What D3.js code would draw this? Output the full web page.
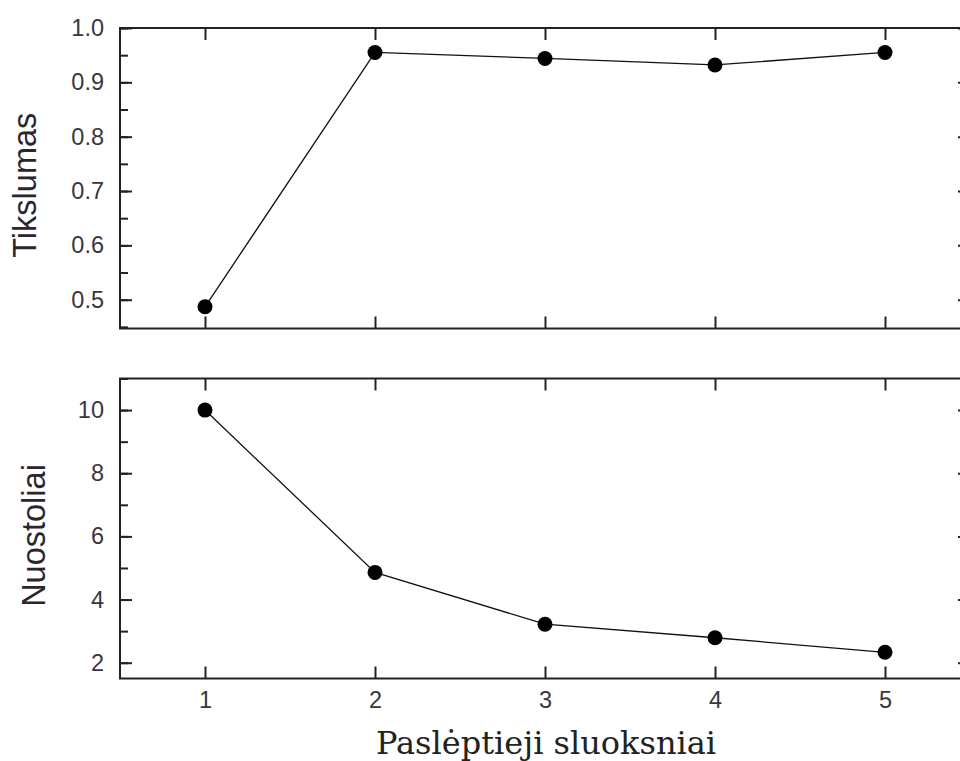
<!DOCTYPE html>
<html>
<head>
<meta charset="utf-8">
<script src="https://cdn.jsdelivr.net/npm/d3@7"></script>
<style>
  html, body { margin: 0; padding: 0; background: #fff; }
  svg { display: block; }
</style>
</head>
<body>
<svg id="chart" width="960" height="761"></svg>
<script>
// Hidden layer count on the shared x axis
const layers = [1, 2, 3, 4, 5];
// Accuracy for each layer count
const accuracy = [0.487, 0.955, 0.944, 0.932, 0.955];
// Loss for each layer count
const loss = [10.0, 4.86, 3.22, 2.79, 2.33];

const xTicks = [1, 2, 3, 4, 5];
const accTicks = [0.5, 0.6, 0.7, 0.8, 0.9, 1.0];
const lossTicks = [2, 4, 6, 8, 10];

const svg = d3.select("#chart");
const frameColor = "#222";
const tickText = "#3a3640";

const x = d3.scaleLinear().domain([0.5, 5.5]).range([120, 970]);

const panels = [
  { values: accuracy, domain: [0.447, 1.0], top: 28, bottom: 328.5,
    ticks: accTicks, minor: d3.range(0.45, 1.0001, 0.05), fmt: d3.format(".1f"),
    title: "Tikslumas", titleX: 27 },
  { values: loss, domain: [1.5, 11], top: 378.5, bottom: 678.5,
    ticks: lossTicks, minor: d3.range(2, 11.0001, 1), fmt: d3.format("d"),
    title: "Nuostoliai", titleX: 36 }
];

panels.forEach((p, i) => {
  const y = d3.scaleLinear().domain(p.domain).range([p.bottom, p.top]);
  const g = svg.append("g");

  // inward-facing ticks on all four sides
  const left = d3.axisLeft(y).tickValues(p.ticks).tickFormat(p.fmt).tickSize(-12).tickPadding(16);
  const leftMinor = d3.axisLeft(y).tickValues(p.minor).tickFormat("").tickSize(-8);
  const right = d3.axisRight(y).tickValues(p.ticks).tickFormat("").tickSize(-12);
  const bottom = d3.axisBottom(x).tickValues(xTicks).tickSize(-12).tickPadding(13)
    .tickFormat(i === 1 ? d3.format("d") : "");
  const top = d3.axisTop(x).tickValues(xTicks).tickFormat("").tickSize(-12);

  const axes = [
    g.append("g").attr("transform", `translate(${x.range()[0]},0)`).call(leftMinor),
    g.append("g").attr("transform", `translate(${x.range()[0]},0)`).call(left),
    g.append("g").attr("transform", `translate(${x.range()[1]},0)`).call(right),
    g.append("g").attr("transform", `translate(0,${p.bottom})`).call(bottom),
    g.append("g").attr("transform", `translate(0,${p.top})`).call(top)
  ];
  axes.forEach(a => {
    a.select(".domain").remove();
    a.selectAll(".tick line").attr("stroke", frameColor).attr("stroke-width", 2);
    a.selectAll(".tick text")
      .attr("fill", tickText)
      .style("font-family", "'Liberation Sans', Arial, sans-serif")
      .style("font-size", "23.5px");
  });

  // frame
  g.append("rect")
    .attr("x", x.range()[0]).attr("y", p.top)
    .attr("width", x.range()[1] - x.range()[0]).attr("height", p.bottom - p.top)
    .attr("fill", "none").attr("stroke", frameColor).attr("stroke-width", 2);

  // series line
  const line = d3.line().x((d, k) => x(layers[k])).y(d => y(d));
  g.append("path")
    .datum(p.values)
    .attr("d", line)
    .attr("fill", "none")
    .attr("stroke", "#111")
    .attr("stroke-width", 1.3);

  // markers
  g.selectAll("circle.pt")
    .data(p.values)
    .join("circle")
    .attr("class", "pt")
    .attr("cx", (d, k) => x(layers[k]))
    .attr("cy", d => y(d))
    .attr("r", 7.5)
    .attr("fill", "#000");

  // y axis title
  svg.append("text")
    .attr("transform", `translate(${p.titleX},${(p.top + p.bottom) / 2 + 7}) rotate(-90)`)
    .attr("text-anchor", "middle")
    .attr("dominant-baseline", "middle")
    .attr("fill", "#2a2630")
    .style("font-family", "'Liberation Sans', Arial, sans-serif")
    .style("font-size", "32.5px")
    .text(p.title);
});

// shared x axis title
svg.append("text")
  .attr("x", 546)
  .attr("y", 754)
  .attr("text-anchor", "middle")
  .attr("fill", "#222")
  .style("font-family", "'DejaVu Serif', 'Liberation Serif', serif")
  .style("font-size", "32px")
  .text("Paslėptieji sluoksniai");
</script>
</body>
</html>
